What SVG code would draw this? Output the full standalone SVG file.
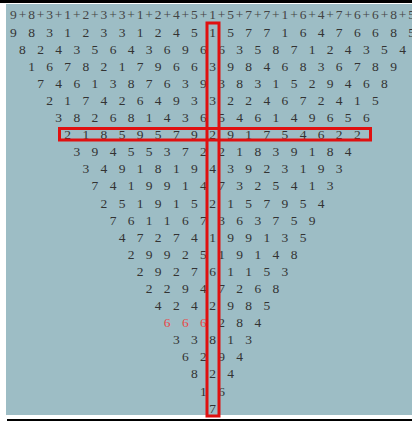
<svg xmlns="http://www.w3.org/2000/svg" width="412" height="425" viewBox="0 0 412 425">
<style>
.d{font-family:"Liberation Serif","Times New Roman",serif;font-size:13.5px;fill:#333;text-anchor:middle}
.p{font-family:"Liberation Serif","Times New Roman",serif;font-size:13.5px;fill:#444;text-anchor:middle}
.r{fill:#e84848}
.box{fill:none;stroke:#e01010;stroke-width:3}
</style>
<rect x="0" y="0" width="412" height="425" fill="#fff"/>
<rect x="0" y="0" width="412" height="3" fill="#000"/>
<rect x="6" y="4" width="406" height="411" fill="#9dbdc5"/>
<rect x="7" y="419" width="405" height="2" fill="#000"/>
<g id="triangle">
<text id="row1" class="p" y="18.6" x="13.4 22.45 31.5 40.55 49.6 58.65 67.7 76.75 85.8 94.85 103.9 112.95 122.0 131.05 140.1 149.15 158.2 167.25 176.3 185.35 194.4 203.45 212.5 221.55 230.6 239.65 248.7 257.75 266.8 275.85 284.9 293.95 303.0 312.05 321.1 330.15 339.2 348.25 357.3 366.35 375.4 384.45 393.5 402.55 411.6">9+8+3+1+2+3+3+1+2+4+5+1+5+7+7+1+6+4+7+6+6+8+5</text>
<text id="row2" class="d" y="36.6" x="13.4 31.5 49.6 67.7 85.8 103.9 122.0 140.1 158.2 176.3 194.4 212.5 230.6 248.7 266.8 284.9 303.0 321.1 339.2 357.3 375.4 393.5 411.6">98312331245157716476685</text>
<text id="row3" class="d" y="53.7" x="22.4 40.5 58.6 76.8 94.8 113.0 131.0 149.2 167.2 185.4 203.4 221.6 239.6 257.8 275.8 294.0 312.0 330.2 348.2 366.4 384.4 402.6">8243564369663587124354</text>
<text id="row4" class="d" y="70.8" x="31.5 49.6 67.7 85.8 103.9 122.0 140.1 158.2 176.3 194.4 212.5 230.6 248.7 266.8 284.9 303.0 321.1 339.2 357.3 375.4 393.5">167821796639846836789</text>
<text id="row5" class="d" y="87.9" x="40.5 58.6 76.8 94.8 113.0 131.0 149.2 167.2 185.4 203.4 221.6 239.6 257.8 275.8 294.0 312.0 330.2 348.2 366.4 384.4">74613876393831529468</text>
<text id="row6" class="d" y="105.0" x="49.6 67.7 85.8 103.9 122.0 140.1 158.2 176.3 194.4 212.5 230.6 248.7 266.8 284.9 303.0 321.1 339.2 357.3 375.4">2174264933224672415</text>
<text id="row7" class="d" y="122.1" x="58.6 76.8 94.8 113.0 131.0 149.2 167.2 185.4 203.4 221.6 239.6 257.8 275.8 294.0 312.0 330.2 348.2 366.4">382681436546149656</text>
<text id="row8" class="d" y="139.1" x="67.7 85.8 103.9 122.0 140.1 158.2 176.3 194.4 212.5 230.6 248.7 266.8 284.9 303.0 321.1 339.2 357.3">21859579291754622</text>
<text id="row9" class="d" y="156.2" x="76.8 94.8 113.0 131.0 149.2 167.2 185.4 203.4 221.6 239.6 257.8 275.8 294.0 312.0 330.2 348.2">3945537221839184</text>
<text id="row10" class="d" y="173.3" x="85.8 103.9 122.0 140.1 158.2 176.3 194.4 212.5 230.6 248.7 266.8 284.9 303.0 321.1 339.2">349181943923193</text>
<text id="row11" class="d" y="190.4" x="94.8 113.0 131.0 149.2 167.2 185.4 203.4 221.6 239.6 257.8 275.8 294.0 312.0 330.2">74199147325413</text>
<text id="row12" class="d" y="207.5" x="103.9 122.0 140.1 158.2 176.3 194.4 212.5 230.6 248.7 266.8 284.9 303.0 321.1">2519152157954</text>
<text id="row13" class="d" y="224.6" x="113.0 131.0 149.2 167.2 185.4 203.4 221.6 239.6 257.8 275.8 294.0 312.0">761167363759</text>
<text id="row14" class="d" y="241.7" x="122.0 140.1 158.2 176.3 194.4 212.5 230.6 248.7 266.8 284.9 303.0">47274199135</text>
<text id="row15" class="d" y="258.8" x="131.0 149.2 167.2 185.4 203.4 221.6 239.6 257.8 275.8 294.0">2992519148</text>
<text id="row16" class="d" y="275.9" x="140.1 158.2 176.3 194.4 212.5 230.6 248.7 266.8 284.9">292761153</text>
<text id="row17" class="d" y="293.0" x="149.2 167.2 185.4 203.4 221.6 239.6 257.8 275.8">22947268</text>
<text id="row18" class="d" y="310.0" x="158.2 176.3 194.4 212.5 230.6 248.7 266.8">4242985</text>
<text id="row19" class="d" y="327.1"><tspan class="r" x="167.2 185.4 203.4">666</tspan><tspan x="221.6 239.6 257.8">284</tspan></text>
<text id="row20" class="d" y="344.2" x="176.3 194.4 212.5 230.6 248.7">33813</text>
<text id="row21" class="d" y="361.3" x="185.4 203.4 221.6 239.6">6294</text>
<text id="row22" class="d" y="378.4" x="194.4 212.5 230.6">824</text>
<text id="row23" class="d" y="395.5" x="203.4 221.6">16</text>
<text id="row24" class="d" y="412.6" x="212.5">7</text>
</g>
<g id="highlights">
<rect id="column-box" class="box" x="207" y="23" width="12" height="393"/>
<rect id="row-box" class="box" x="59.5" y="128.5" width="311" height="11.5"/>
</g>
</svg>
